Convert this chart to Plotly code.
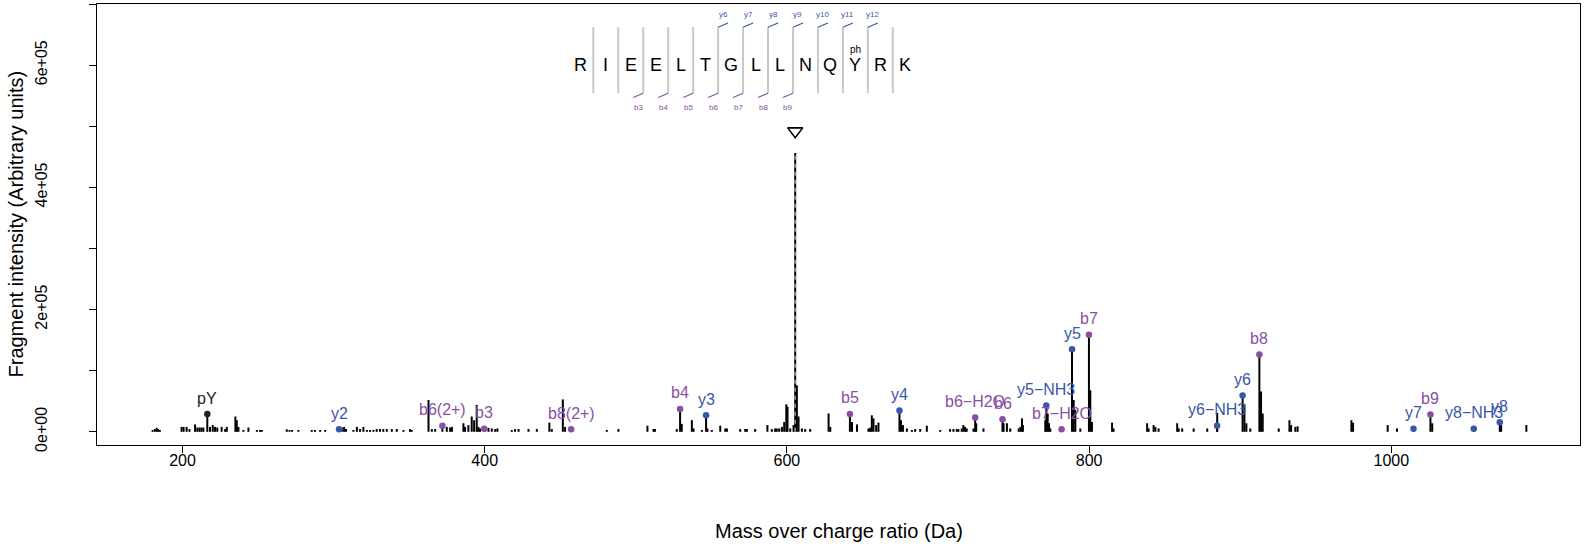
import plotly.graph_objects as go

# ---------------- data ----------------
# unannotated spectrum peaks (m/z, intensity)
peak_mz = [180.2, 181.7, 182.9, 183.9, 185.0, 199.4, 200.7, 202.7, 204.6, 208.3, 209.8, 211.2, 212.5, 213.8,
           218.2, 220.0, 221.5, 223.0, 225.9, 228.2, 229.3, 235.0, 235.9, 237.0, 240.3, 243.6, 249.2, 251.3,
           252.5, 269.0, 270.8, 272.5, 276.7, 285.5, 287.7, 291.1, 294.4, 305.4, 306.9, 308.2, 313.1, 315.4,
           317.5, 319.7, 322.0, 324.1, 326.3, 328.5, 330.7, 332.9, 335.2, 338.5, 341.8, 346.2, 350.6,
           351.7, 362.8, 365.0, 367.2, 374.9, 377.1, 378.3, 385.9, 387.0, 389.2, 391.4, 393.0, 394.7, 395.8,
           396.9, 402.5, 404.7, 406.9, 408.4, 417.9, 420.1, 422.4, 429.0, 434.5, 442.8, 444.4, 451.7, 453.2,
           480.8, 488.5, 507.7, 511.7, 512.7, 527.1, 530.4,
           537.1, 538.2, 543.7, 547.4, 550.3, 555.9, 559.2, 560.3, 569.1, 572.4, 573.5, 579.0, 587.1, 590.0,
           592.2, 593.3, 594.9, 596.7, 598.2, 599.6, 600.4, 602.2, 604.4, 605.5, 606.6, 607.7, 609.9, 612.1,
           615.4, 627.6, 628.7, 643.1, 646.4, 654.0, 655.1, 656.2, 657.3, 659.1, 660.6, 675.5, 676.8, 679.4,
           682.7, 684.9, 688.2, 692.6, 701.5, 708.0, 710.2, 712.4,
           713.5, 715.7, 716.8, 717.9, 719.0, 723.5, 725.3, 730.1, 743.4, 745.6, 747.8, 753.4, 754.5, 755.6,
           756.2, 771.0, 772.6, 773.5, 774.3, 789.8, 790.9, 794.2, 800.8, 801.9, 815.2, 816.2, 838.4, 839.4,
           842.7, 843.9, 846.0, 858.3, 859.3, 861.6, 869.2, 878.2, 884.8,
           902.8, 904.1, 906.7, 913.8, 914.9, 925.5, 932.6, 933.7, 936.5, 938.0, 973.6, 974.7, 997.6, 1003.8,
           1027.1, 1072.7, 1089.4]
peak_int = [3000, 4500, 6500, 4500, 3000, 8000, 8000, 8000, 4500, 12000, 7000, 7000, 7000, 7000,
            8000, 11000, 8000, 7000, 8000, 4500, 8000, 25000, 19000, 8000, 3000, 7000, 3000, 3000,
            3000, 4000, 3000, 3000, 3000, 3000, 3000, 3000, 3000, 7000, 8000, 4500, 3000, 8000,
            4500, 8000, 3000, 3000, 3000, 4500, 4500, 4500, 4500, 4500, 4500, 3000, 4500,
            3000, 52000, 4500, 4500, 8000, 7000, 8000, 14000, 8000, 11000, 25000, 19000, 44000, 8000,
            5500, 6500, 5500, 4500, 5500, 3000, 4500, 4500, 4500, 4500, 15000, 4500, 53000, 8000,
            3000, 4500, 10000, 4500, 4500, 4500, 13000,
            19000, 5500, 3000, 5500, 3000, 10000, 5500, 5500, 4500, 4500, 4500, 4500, 11000, 4500,
            5500, 5500, 5500, 8000, 16000, 45000, 41000, 5500, 11000, 456000, 76000, 25000, 5500, 4500,
            4500, 30000, 8000, 16000, 12000, 5500, 6600, 27000, 22000, 11000, 15000, 19000, 11000, 5500,
            3000, 4500, 4500, 10000, 3000, 4500, 4500, 4500,
            4500, 5500, 11000, 8000, 5500, 5500, 14000, 5500, 14000, 14000, 5500, 5500, 8000, 22000,
            11000, 19000, 30000, 14000, 5500, 52000, 36000, 5500, 68000, 16000, 15000, 5500, 14000, 5500,
            11000, 8000, 5500, 14000, 5500, 5500, 5500, 5500, 31000,
            45000, 14000, 5500, 66000, 30000, 5500, 19000, 11000, 8000, 9000, 19000, 15000, 11000, 5500,
            14000, 11000, 11000]

# annotated fragment ions
ion_labels = ["pY", "y2", "b6(2+)", "b3", "b8(2+)", "b4", "y3", "b5", "y4", "b6\u2212H2O", "b6",
              "y5\u2212NH3", "b7\u2212H2O", "y5", "b7", "y6\u2212NH3", "y6", "b8", "y7", "b9",
              "y8\u2212NH3", "y8"]
ion_mz = [216.4, 303.6, 372.0, 399.7, 457.2, 529.3, 546.5, 641.7, 674.5, 724.6, 742.7,
          771.7, 781.8, 788.7, 799.9, 884.7, 901.6, 912.7, 1014.7, 1025.9, 1054.6, 1071.8]
ion_int = [29000, 4000, 9700, 5000, 4000, 37500, 27000, 29300, 35000, 23400, 20600,
           43000, 4000, 135000, 159000, 10000, 59400, 126500, 5000, 28300, 5000, 15700]
ion_type = ["imm", "y", "b", "b", "b", "b", "y", "b", "y", "b", "b",
            "y", "b", "y", "b", "y", "y", "b", "y", "b", "y", "y"]

precursor_mz = 605.5
precursor_int = 456000
precursor_marker_int = 492000

sequence = ["R", "I", "E", "E", "L", "T", "G", "L", "L", "N", "Q", "Y", "R", "K"]
y_series_labels = ["y6", "y7", "y8", "y9", "y10", "y11", "y12"]
b_series_labels = ["b3", "b4", "b5", "b6", "b7", "b8", "b9"]
x_ticks = [200, 400, 600, 800, 1000]
y_ticks = [0, 100000, 200000, 300000, 400000, 500000, 600000, 700000]
y_ticktext = ["0e+00", "", "2e+05", "", "4e+05", "", "6e+05", ""]

# ---------------- style ----------------
COL = {"y": "#3857A8", "b": "#8A4FA3", "imm": "#222222"}
FONT = "Liberation Sans, Arial, Helvetica, sans-serif"

fig = go.Figure()

# spectrum sticks
sx, sy = [], []
for m, v in zip(peak_mz + ion_mz, peak_int + ion_int):
    sx += [m, m, None]
    sy += [0, v, None]
fig.add_trace(go.Scatter(x=sx, y=sy, mode="lines", line=dict(color="black", width=2),
                         hoverinfo="skip", showlegend=False))

# precursor dashed overlay and marker
fig.add_trace(go.Scatter(x=[precursor_mz, precursor_mz], y=[0, precursor_int], mode="lines",
                         line=dict(color="#9a9a9a", width=1.5, dash="4px,4px"),
                         hoverinfo="skip", showlegend=False))
fig.add_trace(go.Scatter(x=[precursor_mz], y=[precursor_marker_int], mode="markers",
                         marker=dict(symbol="triangle-down-open", size=13, color="black",
                                     line=dict(width=1.6, color="black")),
                         hoverinfo="skip", showlegend=False))

# ion dots
for t in ["imm", "y", "b"]:
    xs = [m for m, tt in zip(ion_mz, ion_type) if tt == t]
    ys = [v for v, tt in zip(ion_int, ion_type) if tt == t]
    fig.add_trace(go.Scatter(x=xs, y=ys, mode="markers",
                             marker=dict(size=6.5, color=COL[t]),
                             hoverinfo="skip", showlegend=False))

annotations = []
for lab, m, v, t in zip(ion_labels, ion_mz, ion_int, ion_type):
    annotations.append(dict(x=m, y=v, text=lab, showarrow=False, yshift=16,
                            font=dict(family=FONT, size=16, color=COL[t]),
                            xanchor="center", yanchor="middle"))

# peptide sequence diagram (layout positions in data units)
seq_x0 = 463.6
seq_step = 16.52
seq_y = 600000
sep_lo, sep_hi = 554000, 662000
for i, aa in enumerate(sequence):
    annotations.append(dict(x=seq_x0 + i * seq_step, y=seq_y, text=aa, showarrow=False,
                            font=dict(family=FONT, size=18, color="black"),
                            xanchor="center", yanchor="middle"))
    if aa == "Y":
        annotations.append(dict(x=seq_x0 + i * seq_step, y=625000, text="ph", showarrow=False,
                                font=dict(family=FONT, size=10, color="black"),
                                xanchor="center", yanchor="middle"))
gx, gy = [], []
for i in range(len(sequence) - 1):
    xs = seq_x0 + (i + 0.5) * seq_step
    gx += [xs, xs, None]
    gy += [sep_lo, sep_hi, None]
fig.add_trace(go.Scatter(x=gx, y=gy, mode="lines", line=dict(color="#c8c8c8", width=2),
                         hoverinfo="skip", showlegend=False))

yx, yy, bx, by = [], [], [], []
for j, lab in enumerate(y_series_labels):
    xs = seq_x0 + (5 + j + 0.5) * seq_step
    yx += [xs, xs + 6.6, None]
    yy += [sep_hi, sep_hi + 7000, None]
    annotations.append(dict(x=xs + 3.3, y=683000, text=lab, showarrow=False,
                            font=dict(family=FONT, size=8, color=COL["y"]),
                            xanchor="center", yanchor="middle"))
for j, lab in enumerate(b_series_labels):
    xs = seq_x0 + (2 + j + 0.5) * seq_step
    bx += [xs, xs - 6.6, None]
    by += [sep_lo, sep_lo - 7000, None]
    annotations.append(dict(x=xs - 3.3, y=531000, text=lab, showarrow=False,
                            font=dict(family=FONT, size=8, color=COL["b"]),
                            xanchor="center", yanchor="middle"))
fig.add_trace(go.Scatter(x=yx, y=yy, mode="lines", line=dict(color=COL["y"], width=1.2),
                         hoverinfo="skip", showlegend=False))
fig.add_trace(go.Scatter(x=bx, y=by, mode="lines", line=dict(color=COL["b"], width=1.2),
                         hoverinfo="skip", showlegend=False))

# axis titles
annotations.append(dict(xref="paper", yref="paper", x=0.5, y=0, yshift=-86,
                        text="Mass over charge ratio (Da)", showarrow=False,
                        font=dict(family=FONT, size=20, color="black"),
                        xanchor="center", yanchor="middle"))
annotations.append(dict(xref="paper", yref="paper", x=0, y=0.5, xshift=-82,
                        text="Fragment intensity (Arbitrary units)", showarrow=False, textangle=-90,
                        font=dict(family=FONT, size=20, color="black"),
                        xanchor="center", yanchor="middle"))

fig.update_layout(
    width=1596, height=550,
    margin=dict(l=97, r=16, t=4, b=105),
    paper_bgcolor="white", plot_bgcolor="white",
    showlegend=False,
    annotations=annotations,
    font=dict(family=FONT, size=15, color="black"),
    xaxis=dict(range=[143.4, 1124.9], tickvals=x_ticks, ticktext=[str(v) for v in x_ticks],
               showgrid=False, zeroline=False, showline=True, mirror=True,
               linecolor="black", linewidth=1, ticks="outside", ticklen=7, tickwidth=1,
               tickcolor="black", tickfont=dict(family=FONT, size=16), ticklabelstandoff=-6),
    yaxis=dict(range=[-21600, 700000], tickvals=y_ticks, ticktext=y_ticktext, tickangle=-90,
               showgrid=False, zeroline=False, showline=True, mirror=True,
               linecolor="black", linewidth=1, ticks="outside", ticklen=7, tickwidth=1,
               tickcolor="black", tickfont=dict(family=FONT, size=16), ticklabelstandoff=36),
)

fig.write_html("out.html", config={"displayModeBar": False},
               post_script="document.body.style.margin='0px';")
